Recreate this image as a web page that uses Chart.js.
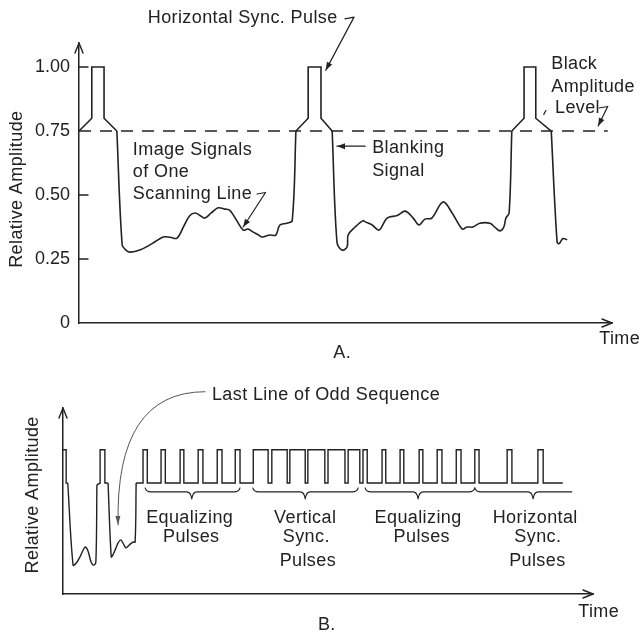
<!DOCTYPE html>
<html>
<head>
<meta charset="utf-8">
<script src="https://cdn.jsdelivr.net/npm/chart.js@4.4.1/dist/chart.umd.min.js"></script>
<style>
  html, body { margin: 0; padding: 0; background: #ffffff; }
  canvas { position: absolute; left: 0; }
  #chartA { top: 0; }
  #chartB { top: 365px; }
</style>
</head>
<body>
<canvas id="chartA" width="639" height="365"></canvas>
<canvas id="chartB" width="639" height="267"></canvas>
<script>
(() => {
    'use strict';

    const ink = '#222222';
    const fontFamily = '"Liberation Sans", Arial, sans-serif';

    // A. one scanning line between horizontal sync pulses (time in % of the axis)
    const timeA = [
        0, 2.4, 2.4, 4.7, 4.7, 7.1, 8.1, 8.8, 9.6, 11.4, 13.7, 15.8, 17.1, 18.4, 19.7, 20.8,
        21.8, 22.7, 23.6, 24.8, 26.1, 27.4, 28.3, 29.6, 30.8, 31.7, 32.6, 33.6, 34.3, 35.1,
        35.8, 36.8, 37.1, 37.7, 39.0, 40.0, 40.7, 43.0, 43.0, 45.4, 45.4, 47.5, 48.4, 49.3,
        50.3, 50.5, 51.8, 53.3, 53.7, 55.0, 56.3, 57.8, 59.7, 61.2, 62.7, 63.8, 64.9, 66.2,
        68.3, 70.0, 71.9, 72.8, 73.9, 75.2, 77.1, 78.0, 79.0, 79.7, 80.1, 80.7, 81.2, 83.5,
        83.5, 85.7, 85.7, 88.6, 89.7, 90.1, 90.8, 91.6,
    ];
    const ampA = [
        0.75, 0.80, 1.00, 1.00, 0.80, 0.75, 0.305, 0.285, 0.277, 0.285, 0.31, 0.336, 0.335, 0.332, 0.38, 0.42,
        0.43, 0.42, 0.41, 0.43, 0.45, 0.445, 0.44, 0.40, 0.363, 0.367, 0.356, 0.345, 0.336, 0.34,
        0.344, 0.342, 0.35, 0.383, 0.39, 0.40, 0.75, 0.80, 1.00, 1.00, 0.80, 0.75, 0.316, 0.285,
        0.297, 0.344, 0.375, 0.40, 0.395, 0.383, 0.363, 0.41, 0.42, 0.437, 0.41, 0.383, 0.406, 0.41,
        0.473, 0.43, 0.367, 0.375, 0.375, 0.39, 0.39, 0.375, 0.36, 0.375, 0.41, 0.43, 0.75, 0.80,
        1.00, 1.00, 0.80, 0.75, 0.316, 0.31, 0.33, 0.325,
    ];
    const blackLevelA = 0.75;
    const blackLevelEndA = 99.2;
    const yTicksA = [0, 0.25, 0.5, 0.75, 1.0];
    const yTickLabelsA = ['0', '0.25', '0.50', '0.75', '1.00'];

    // B. end of a field: last line, then equalizing / vertical / equalizing / horizontal pulses
    const timeB = [
        0, 0.6, 0.6, 0.9, 1.9, 2.5, 3.2, 3.8, 4.2, 4.7, 5.3, 5.8, 6.2, 6.4, 7.0, 7.0,
        7.9, 7.9, 8.5, 9.1, 9.4, 10.0, 10.4, 10.9, 11.5, 11.9, 12.5, 13.2, 13.6, 13.8,
    ];
    const ampB = [
        1.0, 1.0, 0.77, 0.77, 0.20, 0.215, 0.257, 0.305, 0.326, 0.30, 0.222, 0.20, 0.222, 0.757, 0.77, 1.0,
        1.0, 0.77, 0.77, 0.257, 0.27, 0.32, 0.354, 0.375, 0.34, 0.32, 0.34, 0.36, 0.36, 0.77,
    ];
    const pulseStartB = [
        15.1, 18.5, 22.1, 25.5, 29.1, 32.5,
        35.9, 39.4, 42.8, 46.2, 50.0, 53.8,
        56.6, 60.2, 63.6, 67.2, 70.6, 74.2, 77.7,
        83.8, 89.6,
    ];
    const pulseEndB = [
        15.9, 19.3, 22.8, 26.4, 30.0, 33.4,
        38.7, 42.3, 45.7, 49.4, 53.2, 56.0,
        57.4, 60.9, 64.3, 67.9, 71.5, 75.1, 78.5,
        84.7, 90.6,
    ];
    const blankLevelB = 0.77;
    const syncLevelB = 1.0;
    const traceEndB = 94.3;

    const traceA = timeA.map((t, i) => ({ x: t, y: ampA[i] }));
    const traceB = timeB.map((t, i) => ({ x: t, y: ampB[i] }));
    pulseStartB.forEach((start, i) => {
        traceB.push(
            { x: start, y: blankLevelB },
            { x: start, y: syncLevelB },
            { x: pulseEndB[i], y: syncLevelB },
            { x: pulseEndB[i], y: blankLevelB },
        );
    });
    traceB.push({ x: traceEndB, y: blankLevelB });

    // picture content is drawn smooth, pulse outlines straight
    const splitRuns = (trace, videoBelow) => {
        const runs = [];
        let current = [trace[0]];
        let smooth = false;
        for (let i = 1; i < trace.length; i++) {
            const isVideo = trace[i].y < videoBelow;
            if (isVideo === smooth) {
                current.push(trace[i]);
            } else if (isVideo) {
                runs.push({ smooth: false, data: current });
                current = [trace[i - 1], trace[i]];
                smooth = true;
            } else {
                current.push(trace[i]);
                runs.push({ smooth: true, data: current });
                current = [trace[i]];
                smooth = false;
            }
        }
        runs.push({ smooth, data: current });
        return runs;
    };

    const traceDatasets = (trace, videoBelow, width) => splitRuns(trace, videoBelow)
        .filter((run) => run.data.length > 1)
        .map((run) => ({
            data: run.data,
            showLine: true,
            borderColor: ink,
            borderWidth: width,
            pointRadius: 0,
            tension: run.smooth ? 0.35 : 0,
        }));

    const head = (ctx, x1, y1, x2, y2, filled, len, half) => {
        const a = Math.atan2(y2 - y1, x2 - x1);
        const bx = x2 - len * Math.cos(a);
        const by = y2 - len * Math.sin(a);
        const nx = -Math.sin(a) * half;
        const ny = Math.cos(a) * half;
        ctx.beginPath();
        ctx.moveTo(bx + nx, by + ny);
        ctx.lineTo(x2, y2);
        ctx.lineTo(bx - nx, by - ny);
        if (filled) {
            ctx.closePath();
            ctx.fill();
        } else {
            ctx.stroke();
        }
    };

    const sketchNotes = {
        id: 'sketchNotes',
        afterDraw(chart, args, opts) {
            const ctx = chart.ctx;
            const px = (t) => chart.scales.x.getPixelForValue(t);
            const py = (v) => chart.scales.y.getPixelForValue(v);
            const area = chart.chartArea;

            ctx.save();
            ctx.strokeStyle = ink;
            ctx.fillStyle = ink;
            ctx.lineWidth = 1.4;
            ctx.lineCap = 'round';
            ctx.lineJoin = 'round';

            head(ctx, area.left, area.bottom, area.left, area.top, false, 10, 4);
            head(ctx, area.left, area.bottom, area.right, area.bottom, false, 10, 4);

            (opts.innerTicks || []).forEach((v) => {
                ctx.beginPath();
                ctx.moveTo(area.left, py(v));
                ctx.lineTo(area.left + 9, py(v));
                ctx.stroke();
            });

            ctx.lineWidth = 1.2;
            (opts.arrows || []).forEach((arrow) => {
                const pts = arrow.points.map(([t, v]) => [px(t), py(v)]);
                ctx.beginPath();
                pts.forEach(([x, y], i) => (i ? ctx.lineTo(x, y) : ctx.moveTo(x, y)));
                ctx.stroke();
                if (arrow.head !== false) {
                    const [x1, y1] = pts[pts.length - 2];
                    const [x2, y2] = pts[pts.length - 1];
                    head(ctx, x1, y1, x2, y2, true, 8, 3);
                }
            });

            (opts.curves || []).forEach((curve) => {
                ctx.save();
                ctx.strokeStyle = '#555555';
                ctx.fillStyle = '#555555';
                ctx.lineWidth = 1;
                const [x0, y0] = [px(curve.from[0]), py(curve.from[1])];
                const [cx, cy] = [px(curve.ctrl[0]), py(curve.ctrl[1])];
                const [x1, y1] = [px(curve.to[0]), py(curve.to[1])];
                ctx.beginPath();
                ctx.moveTo(x0, y0);
                ctx.quadraticCurveTo(cx, cy, x1, y1);
                ctx.stroke();
                head(ctx, cx, cy, x1, y1, true, 9, 2.5);
                ctx.restore();
            });

            ctx.lineWidth = 1.1;
            (opts.braces || []).forEach((b) => {
                const x1 = px(b.from);
                const x2 = px(b.to);
                const xm = px(b.tip);
                const y0 = py(b.v);
                ctx.beginPath();
                ctx.moveTo(x1, y0 - 4);
                ctx.quadraticCurveTo(x1 + 1, y0, x1 + 6, y0);
                ctx.lineTo(xm - 5, y0);
                ctx.quadraticCurveTo(xm - 1, y0, xm, y0 + 7);
                ctx.quadraticCurveTo(xm + 1, y0, xm + 5, y0);
                if (b.openEnd) {
                    ctx.lineTo(x2, y0);
                } else {
                    ctx.lineTo(x2 - 6, y0);
                    ctx.quadraticCurveTo(x2 - 1, y0, x2, y0 - 4);
                }
                ctx.stroke();
            });

            ctx.textBaseline = 'middle';
            ctx.letterSpacing = '0.4px';
            (opts.texts || []).forEach((item) => {
                ctx.font = `${item.size || 18}px ${fontFamily}`;
                if (item.rotate) {
                    ctx.save();
                    ctx.translate(px(item.t), py(item.v));
                    ctx.rotate(-Math.PI / 2);
                    ctx.textAlign = 'center';
                    ctx.fillText(item.text, 0, 0);
                    ctx.restore();
                    return;
                }
                ctx.textAlign = item.align || 'left';
                ctx.fillText(item.text, px(item.t), py(item.v));
            });

            ctx.restore();
        },
    };

    const axisX = {
        type: 'linear',
        min: 0,
        max: 100,
        grid: { display: false },
        ticks: { display: false },
        border: { display: true, color: ink, width: 1.5 },
        afterFit: (scale) => { scale.height = 0; },
    };

    Chart.defaults.font.family = fontFamily;
    Chart.defaults.color = ink;

    new Chart(document.getElementById('chartA'), {
        type: 'scatter',
        data: {
            datasets: [
                ...traceDatasets(traceA, 0.7, 1.6),
                {
                    data: [{ x: 0, y: blackLevelA }, { x: blackLevelEndA, y: blackLevelA }],
                    showLine: true,
                    borderColor: ink,
                    borderWidth: 1.4,
                    borderDash: [12, 9],
                    pointRadius: 0,
                },
            ],
        },
        plugins: [sketchNotes],
        options: {
            responsive: false,
            animation: false,
            layout: { padding: { left: 0, right: 27, top: 43, bottom: 42 } },
            scales: {
                x: axisX,
                y: {
                    type: 'linear',
                    min: 0,
                    max: 1.094,
                    afterBuildTicks: (scale) => { scale.ticks = yTicksA.map((v) => ({ value: v })); },
                    afterFit: (scale) => { scale.width = 79; },
                    grid: { display: false, drawTicks: false },
                    border: { display: true, color: ink, width: 1.5 },
                    ticks: {
                        padding: 9,
                        color: ink,
                        font: { size: 18 },
                        callback: (value, index) => yTickLabelsA[index],
                    },
                },
            },
            plugins: {
                legend: { display: false },
                tooltip: { enabled: false },
                sketchNotes: {
                    innerTicks: [0.25, 0.5, 1.0],
                    texts: [
                        { text: 'Horizontal Sync. Pulse', t: 12.9, v: 1.191 },
                        { text: 'Image Signals', t: 10.1, v: 0.676 },
                        { text: 'of One', t: 10.1, v: 0.590 },
                        { text: 'Scanning Line', t: 10.1, v: 0.504 },
                        { text: 'Blanking', t: 55.0, v: 0.684 },
                        { text: 'Signal', t: 55.0, v: 0.594 },
                        { text: 'Black', t: 88.6, v: 1.012 },
                        { text: 'Amplitude', t: 88.6, v: 0.922 },
                        { text: 'Level', t: 89.3, v: 0.840 },
                        { text: 'Time', t: 97.6, v: -0.0625 },
                        { text: 'A.', t: 47.7, v: -0.117 },
                        { text: 'Relative Amplitude', t: -11.6, v: 0.523, rotate: true },
                    ],
                    arrows: [
                        { points: [[49.9, 1.188], [51.6, 1.195], [46.3, 0.988]] },
                        { points: [[53.7, 0.691], [48.4, 0.691]] },
                        { points: [[97.6, 0.840], [99.2, 0.846], [97.4, 0.770]] },
                        { points: [[33.4, 0.504], [35.0, 0.510], [30.8, 0.375]] },
                        { points: [[87.6, 0.830], [87.2, 0.815]], head: false },
                    ],
                },
            },
        },
    });

    new Chart(document.getElementById('chartB'), {
        type: 'scatter',
        data: {
            datasets: traceDatasets(traceB, 0.7, 1.4),
        },
        plugins: [sketchNotes],
        options: {
            responsive: false,
            animation: false,
            layout: { padding: { left: 0, right: 46, top: 43, bottom: 38 } },
            scales: {
                x: axisX,
                y: {
                    type: 'linear',
                    min: 0,
                    max: 1.29,
                    afterFit: (scale) => { scale.width = 63; },
                    grid: { display: false, drawTicks: false },
                    border: { display: true, color: ink, width: 1.5 },
                    ticks: { display: false },
                },
            },
            plugins: {
                legend: { display: false },
                tooltip: { enabled: false },
                sketchNotes: {
                    texts: [
                        { text: 'Last Line of Odd Sequence', t: 28.1, v: 1.382 },
                        { text: 'Equalizing', t: 23.9, v: 0.528, align: 'center' },
                        { text: 'Pulses', t: 24.2, v: 0.396, align: 'center' },
                        { text: 'Vertical', t: 45.7, v: 0.528, align: 'center' },
                        { text: 'Sync.', t: 45.9, v: 0.396, align: 'center' },
                        { text: 'Pulses', t: 46.2, v: 0.229, align: 'center' },
                        { text: 'Equalizing', t: 67.0, v: 0.528, align: 'center' },
                        { text: 'Pulses', t: 67.7, v: 0.396, align: 'center' },
                        { text: 'Horizontal', t: 89.1, v: 0.528, align: 'center' },
                        { text: 'Sync.', t: 89.6, v: 0.396, align: 'center' },
                        { text: 'Pulses', t: 89.5, v: 0.229, align: 'center' },
                        { text: 'Time', t: 97.2, v: -0.125 },
                        { text: 'B.', t: 48.1, v: -0.215 },
                        { text: 'Relative Amplitude', t: -5.7, v: 0.6875, rotate: true },
                    ],
                    curves: [
                        { from: [26.8, 1.403], ctrl: [9.8, 1.403], to: [10.4, 0.479] },
                    ],
                    braces: [
                        { from: 15.5, to: 33.4, tip: 24.3, v: 0.708 },
                        { from: 35.8, to: 55.7, tip: 45.7, v: 0.708 },
                        { from: 57.0, to: 77.7, tip: 67.0, v: 0.708 },
                        { from: 77.7, to: 96.0, tip: 88.7, v: 0.708, openEnd: true },
                    ],
                },
            },
        },
    });
})();
</script>
</body>
</html>
